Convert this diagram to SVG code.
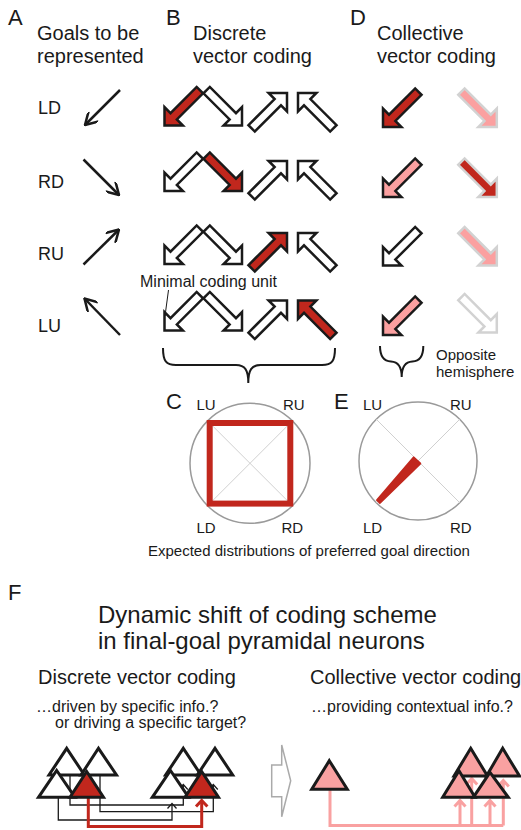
<svg xmlns="http://www.w3.org/2000/svg" width="521" height="830" viewBox="0 0 521 830">
  <defs>
    <style>
      text { font-family: "Liberation Sans", Arial, sans-serif; fill: #1a1a1a; }
      .lbl { font-size: 22px; }
      .hd { font-size: 20px; }
      .row { font-size: 18px; }
      .sm { font-size: 15px; }
      .sub { font-size: 16px; }
      .ttl { font-size: 24px; }
      .blk { stroke-width: 2.5; stroke-linejoin: miter; }
      .kw { fill: #fff; stroke: #1a1a1a; }
      .kr { fill: #c1271d; stroke: #1a1a1a; }
      .kp { fill: #fba0a0; stroke: #1a1a1a; }
      .gw { fill: #fff; stroke: #d2d2d2; }
      .gr { fill: #c1271d; stroke: #d2d2d2; }
      .gp { fill: #fba0a0; stroke: #d2d2d2; }
      .goal { fill: none; stroke: #1a1a1a; stroke-width: 2.5; marker-end: url(#open); }
      .brace { fill: none; stroke: #1a1a1a; stroke-width: 2; }
      .ring { fill: none; stroke: #9a9a9a; stroke-width: 1.5; }
      .diag { stroke: #d0d0d0; stroke-width: 1; }
      .tri { stroke: #1a1a1a; stroke-width: 3; stroke-linejoin: miter; }
      .tw { fill: #fff; }
      .tr { fill: #c1271d; }
      .tp { fill: #f9a1a1; }
      .wire { fill: none; stroke: #1a1a1a; stroke-width: 1.3; }
      .wire-r { fill: none; stroke: #c1271d; stroke-width: 3; }
      .wire-p { fill: none; stroke: #f9a1a1; stroke-width: 3; }
    </style>
    <!-- block arrow pointing along +x, tip at the origin -->
    <path id="blk" d="M0,0 L-13,-13 L-13,-4.5 L-50,-4.5 L-50,4.5 L-13,4.5 L-13,13 Z"/>
    <marker id="open" markerUnits="userSpaceOnUse" viewBox="0 0 14 14" markerWidth="14" markerHeight="14" refX="13" refY="7" orient="auto">
      <path d="M1,0 L13,7 L1,14" fill="none" stroke="#1a1a1a" stroke-width="2.5"/>
    </marker>
  </defs>

  <!-- panel headings -->
  <g id="headings">
    <text class="lbl" x="8" y="24.5">A</text>
    <text class="hd" x="37" y="40">Goals to be</text>
    <text class="hd" x="37" y="63">represented</text>
    <text class="lbl" x="166" y="24.5">B</text>
    <text class="hd" x="193" y="40">Discrete</text>
    <text class="hd" x="193" y="63">vector coding</text>
    <text class="lbl" x="350" y="24.5">D</text>
    <text class="hd" x="377" y="40">Collective</text>
    <text class="hd" x="377" y="63">vector coding</text>
  </g>

  <!-- A: goal directions -->
  <g id="goal-LD">
    <text class="row" x="38" y="114">LD</text>
    <path class="goal" d="M120,90 L85,125"/>
  </g>
  <g id="goal-RD">
    <text class="row" x="38" y="188">RD</text>
    <path class="goal" d="M83.5,159.5 L119,195"/>
  </g>
  <g id="goal-RU">
    <text class="row" x="38" y="260">RU</text>
    <path class="goal" d="M83.5,264.5 L119,229.5"/>
  </g>
  <g id="goal-LU">
    <text class="row" x="38" y="332">LU</text>
    <path class="goal" d="M120,335 L84.5,298.5"/>
  </g>

  <!-- B: discrete vector coding, one unit per direction -->
  <g id="discrete-LD" class="blk">
    <use href="#blk" class="kr" transform="translate(164.5,125.5) rotate(135)"/>
    <use href="#blk" class="kw" transform="translate(242,125.5) rotate(45)"/>
    <use href="#blk" class="kw" transform="translate(287,93) rotate(-45)"/>
    <use href="#blk" class="kw" transform="translate(298,93) rotate(-135)"/>
  </g>
  <g id="discrete-RD" class="blk">
    <use href="#blk" class="kw" transform="translate(164.5,191) rotate(135)"/>
    <use href="#blk" class="kr" transform="translate(242,191) rotate(45)"/>
    <use href="#blk" class="kw" transform="translate(287,161) rotate(-45)"/>
    <use href="#blk" class="kw" transform="translate(298,161) rotate(-135)"/>
  </g>
  <g id="discrete-RU" class="blk">
    <use href="#blk" class="kw" transform="translate(164.5,264) rotate(135)"/>
    <use href="#blk" class="kw" transform="translate(242,264) rotate(45)"/>
    <use href="#blk" class="kr" transform="translate(287,233) rotate(-45)"/>
    <use href="#blk" class="kw" transform="translate(298,233) rotate(-135)"/>
  </g>
  <g id="discrete-LU" class="blk">
    <use href="#blk" class="kw" transform="translate(164.5,330.5) rotate(135)"/>
    <use href="#blk" class="kw" transform="translate(242,330.5) rotate(45)"/>
    <use href="#blk" class="kw" transform="translate(287,300.5) rotate(-45)"/>
    <use href="#blk" class="kr" transform="translate(298,300.5) rotate(-135)"/>
  </g>
  <g id="minimal-unit">
    <text class="sub" x="140" y="287">Minimal coding unit</text>
    <path d="M168.5,290 L165,316" fill="none" stroke="#1a1a1a" stroke-width="1"/>
  </g>
  <path id="brace-B" class="brace" d="M163,348 C163,361 166,365 176,365 L236,365 C245,365 248.3,370 248.3,383 C248.3,370 251.6,365 260.6,365 L322,365 C332,365 335,361 335,348"/>

  <!-- D: collective vector coding -->
  <g id="collective-LD" class="blk">
    <use href="#blk" class="kr" transform="translate(383,127) rotate(135)"/>
    <use href="#blk" class="gp" transform="translate(496.8,127) rotate(45)"/>
  </g>
  <g id="collective-RD" class="blk">
    <use href="#blk" class="kp" transform="translate(383,197) rotate(135)"/>
    <use href="#blk" class="gr" transform="translate(496.8,197) rotate(45)"/>
  </g>
  <g id="collective-RU" class="blk">
    <use href="#blk" class="kw" transform="translate(383,265.5) rotate(135)"/>
    <use href="#blk" class="gp" transform="translate(496.8,265.5) rotate(45)"/>
  </g>
  <g id="collective-LU" class="blk">
    <use href="#blk" class="kp" transform="translate(383,335) rotate(135)"/>
    <use href="#blk" class="gw" transform="translate(496.8,332.5) rotate(45)"/>
  </g>
  <path id="brace-D" class="brace" d="M380,346 Q380,361 391,361.5 Q401.7,362 401.7,377 Q401.7,362 412.4,361.5 Q423.3,361 423.3,346"/>
  <g id="opposite-note">
    <text class="sm" x="436" y="360">Opposite</text>
    <text class="sm" x="436" y="376.5">hemisphere</text>
  </g>

  <!-- C: distribution for discrete coding -->
  <g id="dist-C">
    <text class="lbl" x="166" y="408.5">C</text>
    <circle class="ring" cx="250" cy="463.3" r="60"/>
    <line class="diag" x1="207.6" y1="420.9" x2="292.4" y2="505.7"/>
    <line class="diag" x1="292.4" y1="420.9" x2="207.6" y2="505.7"/>
    <rect x="209.7" y="423" width="80.6" height="80.6" fill="none" stroke="#c1271d" stroke-width="6"/>
    <text class="sm" x="196.5" y="409.5">LU</text>
    <text class="sm" x="283" y="409.5">RU</text>
    <text class="sm" x="196.5" y="532.5">LD</text>
    <text class="sm" x="281.5" y="532.5">RD</text>
  </g>

  <!-- E: distribution for collective coding -->
  <g id="dist-E">
    <text class="lbl" x="334" y="409">E</text>
    <circle class="ring" cx="418" cy="461" r="59"/>
    <line class="diag" x1="376.3" y1="419.3" x2="459.7" y2="502.7"/>
    <line class="diag" x1="459.7" y1="419.3" x2="376.3" y2="502.7"/>
    <polygon points="420.3,463.6 413.7,457.4 377,500.1 380,502.9" fill="#c1271d" stroke="#c1271d" stroke-width="2" stroke-linejoin="round"/>
    <text class="sm" x="363" y="409.5">LU</text>
    <text class="sm" x="450" y="409.5">RU</text>
    <text class="sm" x="363" y="532.5">LD</text>
    <text class="sm" x="450" y="532.5">RD</text>
  </g>
  <text class="sm" x="148" y="556">Expected distributions of preferred goal direction</text>

  <!-- F: coding scheme shift -->
  <g id="panel-F-text">
    <text class="lbl" x="8" y="600">F</text>
    <text class="ttl" x="98" y="623">Dynamic shift of coding scheme</text>
    <text class="ttl" x="98" y="649">in final-goal pyramidal neurons</text>
    <text class="hd" x="38" y="684">Discrete vector coding</text>
    <text class="sub" x="36" y="712">…driven by specific info.?</text>
    <text class="sub" x="55" y="728">or driving a specific target?</text>
    <text class="hd" x="310" y="684">Collective vector coding</text>
    <text class="sub" x="311" y="712">…providing contextual info.?</text>
  </g>

  <!-- connectors between pyramidal neurons -->
  <g id="connectors">
    <path class="wire" d="M58.3,797 V820 H172 V804"/>
    <path class="wire" d="M167.5,808.5 L172,803.5 L176.5,808.5"/>
    <path class="wire" d="M70,776 V805 H183.3 V785"/>
    <path class="wire" d="M178.8,789.5 L183.3,784.5 L187.8,789.5"/>
    <path class="wire" d="M100,776 V811.7 H213.3 V785"/>
    <path class="wire" d="M208.8,789.5 L213.3,784.5 L217.8,789.5"/>
    <path class="wire-r" d="M88.3,797 V826.5 H201.7 V801"/>
    <path class="wire-r" d="M196,806.5 L201.7,800.5 L207.4,806.5"/>
    <path class="wire-p" d="M330,789 V825.5 H503.3"/>
    <path class="wire-p" d="M460,825.5 V801 M454.5,806.5 L460,800.5 L465.5,806.5"/>
    <path class="wire-p" d="M471.7,825.5 V779 M466.2,784.5 L471.7,778.5 L477.2,784.5"/>
    <path class="wire-p" d="M490,825.5 V801 M484.5,806.5 L490,800.5 L495.5,806.5"/>
    <path class="wire-p" d="M503.3,825.5 V781 M497.8,786.5 L503.3,780.5 L508.8,786.5"/>
  </g>

  <!-- discrete group, source -->
  <g id="src-group">
    <polygon class="tri tw" points="66.7,748.3 84.4,775 49,775"/>
    <polygon class="tri tw" points="98.5,748.3 116.5,775 81,775"/>
    <polygon class="tri tw" points="56.7,770.5 75,797.3 38.5,797.3"/>
    <polygon class="tri tr" points="86.7,771.5 103.5,797.3 70,797.3"/>
  </g>
  <!-- discrete group, target -->
  <g id="dst-group">
    <polygon class="tri tw" points="183.3,748.3 201,775 165.6,775"/>
    <polygon class="tri tw" points="215,748.3 232.7,775 197.3,775"/>
    <polygon class="tri tw" points="170.5,770.5 188.7,797.3 152.3,797.3"/>
    <polygon class="tri tr" points="201.7,771.5 218.5,797.3 185,797.3"/>
  </g>

  <g id="shift-arrow">
    <path d="M271.7,765 H281.7 V745 L290.7,780.7 L281.7,816.7 V796.7 H271.7 Z" fill="#fff" stroke="#aaa" stroke-width="1.5"/>
  </g>

  <!-- collective: single source, group target -->
  <g id="coll-src">
    <polygon class="tri tp" points="329.3,760.7 347.3,789.3 311.7,789.3"/>
  </g>
  <g id="coll-dst">
    <polygon class="tri tp" points="470.7,748.3 487.5,776 454,776"/>
    <polygon class="tri tp" points="502.7,748.3 519.5,776 486.5,776"/>
    <polygon class="tri tp" points="459,770.7 475,797.3 442.7,797.3"/>
    <polygon class="tri tp" points="490,772.3 508.3,797.3 473.3,797.3"/>
  </g>
</svg>
